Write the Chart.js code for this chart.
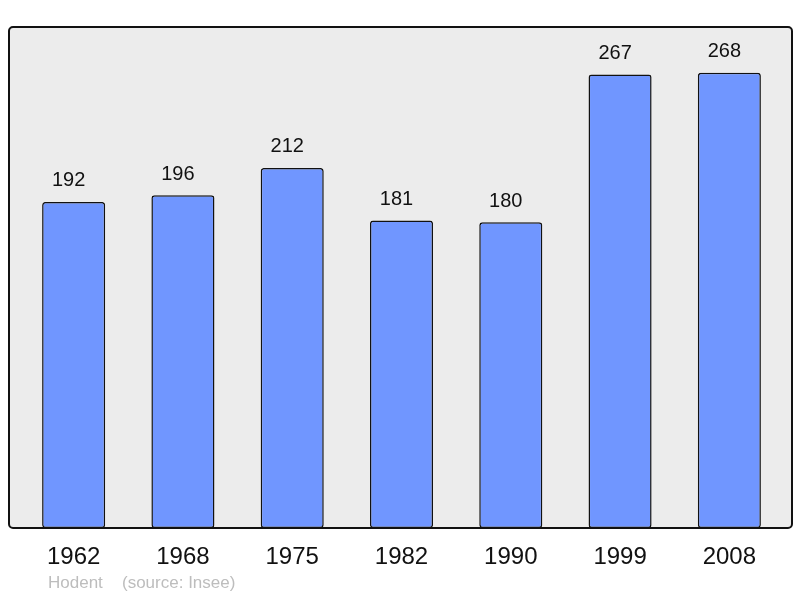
<!DOCTYPE html>
<html>
<head>
<meta charset="utf-8">
<script src="https://cdn.jsdelivr.net/npm/chart.js@4/dist/chart.umd.min.js"></script>
<style>
  html, body { margin: 0; padding: 0; background: #fff; }
  #wrap { width: 800px; height: 598px; position: relative; }
</style>
</head>
<body>
<div id="wrap"><canvas id="popChart" width="800" height="598"></canvas></div>
<script>
const years = ['1962', '1968', '1975', '1982', '1990', '1999', '2008'];
const population = [192, 196, 212, 181, 180, 267, 268];
const footerName = 'Hodent';
const footerSource = '(source: Insee)';

// frame, value labels, year labels, footer
const decor = {
  id: 'decor',
  beforeDraw(chart) {
    const { ctx, chartArea: a } = chart;
    const x0 = a.left - 10, x1 = a.right + 8, y0 = a.top, y1 = a.bottom;
    ctx.save();
    ctx.beginPath();
    ctx.roundRect(x0, y0, x1 - x0, y1 - y0, 4);
    ctx.fillStyle = '#ececec';
    ctx.fill();
    ctx.restore();
  },
  afterDatasetsDraw(chart) {
    const { ctx, chartArea: a, scales } = chart;
    const x0 = a.left - 10, x1 = a.right + 8, y0 = a.top, y1 = a.bottom;
    ctx.save();
    ctx.beginPath();
    ctx.roundRect(x0, y0, x1 - x0, y1 - y0, 4);
    ctx.lineWidth = 2;
    ctx.strokeStyle = '#111';
    ctx.stroke();

    ctx.fillStyle = '#111';
    ctx.textAlign = 'center';
    ctx.textBaseline = 'middle';
    ctx.font = '20px "Liberation Sans", Arial, sans-serif';
    population.forEach((v, i) => {
      const x = scales.x.getPixelForValue(i);
      const y = scales.y.getPixelForValue(v);
      ctx.fillText(String(v), x - 5, y - 21);
    });

    ctx.font = '24px "Liberation Sans", Arial, sans-serif';
    years.forEach((yr, i) => {
      ctx.fillText(yr, scales.x.getPixelForValue(i), y1 + 29);
    });

    ctx.fillStyle = '#bdbdbd';
    ctx.textAlign = 'left';
    ctx.font = '17px "Liberation Sans", Arial, sans-serif';
    ctx.fillText(footerName, 48, 583);
    ctx.fillText(footerSource, 122, 583);
    ctx.restore();
  }
};

new Chart(document.getElementById('popChart').getContext('2d'), {
  type: 'bar',
  data: {
    labels: years,
    datasets: [{
      data: population,
      backgroundColor: '#7096ff',
      borderColor: '#111',
      borderWidth: 1.5,
      borderRadius: 3,
      borderSkipped: false,
      barPercentage: 0.577,
      categoryPercentage: 1,
    }],
  },
  options: {
    responsive: false,
    animation: false,
    layout: { padding: { left: 19, right: 16, top: 27, bottom: 70 } },
    plugins: { legend: { display: false }, tooltip: { enabled: false } },
    scales: {
      x: { display: false },
      y: { display: false, min: 0, max: 295 },
    },
  },
  plugins: [decor],
});
</script>
</body>
</html>
